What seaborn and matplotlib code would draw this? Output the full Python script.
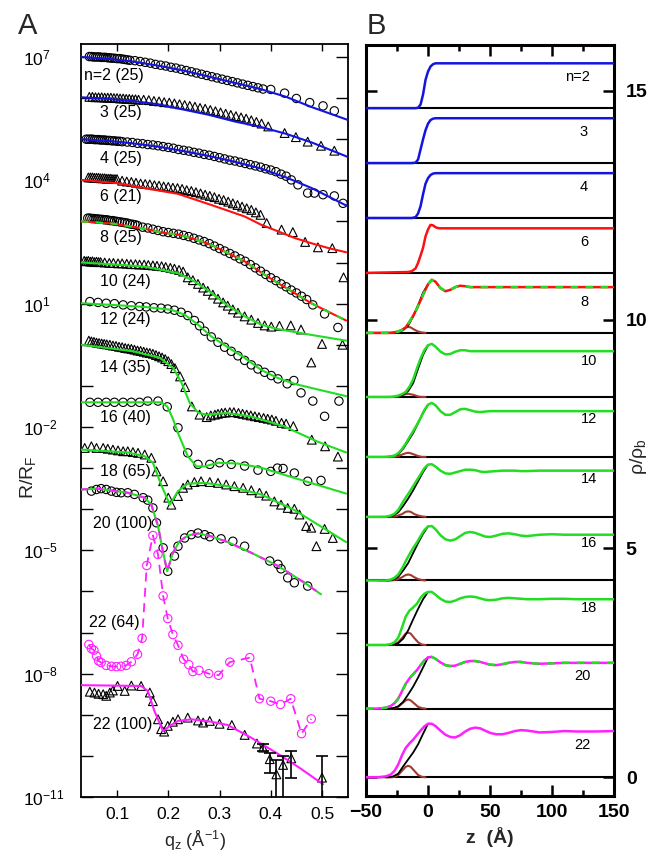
import numpy as np
import matplotlib
matplotlib.use("Agg")
import matplotlib.pyplot as plt
import seaborn as sns

# ---------------- panel A: log10(R/RF), already offset per sample ----------------
q_n2 = [0.046, 0.050, 0.054, 0.058, 0.062, 0.066, 0.070, 0.074, 0.078, 0.082, 0.086, 0.090, 0.095,
        0.100, 0.105, 0.110, 0.115, 0.120, 0.125, 0.135, 0.145, 0.155, 0.165, 0.175, 0.185, 0.195,
        0.205, 0.215, 0.225, 0.235, 0.245, 0.255, 0.265, 0.275, 0.285, 0.295, 0.305, 0.315, 0.325,
        0.335, 0.345, 0.355, 0.365, 0.375, 0.385, 0.400, 0.427, 0.450, 0.476, 0.502, 0.524]
lg_n2 = [7.01, 7.01, 7.00, 7.00, 7.00, 7.00, 6.99, 6.99, 6.99, 6.98, 6.98, 6.97, 6.97,
         6.96, 6.96, 6.95, 6.94, 6.93, 6.92, 6.91, 6.89, 6.87, 6.85, 6.82, 6.80, 6.78,
         6.75, 6.73, 6.70, 6.67, 6.64, 6.61, 6.58, 6.55, 6.52, 6.49, 6.46, 6.43, 6.40,
         6.37, 6.34, 6.31, 6.28, 6.25, 6.22, 6.21, 6.12, 5.99, 5.89, 5.81, 5.69]

q_n3 = [0.046, 0.052, 0.058, 0.064, 0.070, 0.076, 0.082, 0.088, 0.094, 0.100, 0.106, 0.112, 0.118,
        0.124, 0.130, 0.136, 0.142, 0.152, 0.162, 0.172, 0.182, 0.192, 0.202, 0.212, 0.222, 0.232,
        0.242, 0.252, 0.262, 0.272, 0.282, 0.292, 0.302, 0.312, 0.322, 0.332, 0.342, 0.352, 0.362,
        0.372, 0.382, 0.395, 0.427, 0.449, 0.472, 0.498, 0.524]
lg_n3 = [6.03, 6.03, 6.02, 6.02, 6.02, 6.01, 6.01, 6.01, 6.00, 6.00, 5.99, 5.99, 5.98,
         5.98, 5.97, 5.97, 5.96, 5.96, 5.95, 5.93, 5.92, 5.90, 5.89, 5.87, 5.85, 5.83,
         5.81, 5.79, 5.76, 5.74, 5.71, 5.68, 5.65, 5.62, 5.59, 5.56, 5.53, 5.50, 5.46,
         5.42, 5.38, 5.31, 5.15, 5.05, 4.94, 4.84, 4.72]

q_n4 = [0.040, 0.044, 0.048, 0.052, 0.056, 0.060, 0.064, 0.068, 0.072, 0.076, 0.080, 0.085, 0.090,
        0.095, 0.100, 0.105, 0.110, 0.12, 0.13, 0.14, 0.15, 0.16, 0.17, 0.18, 0.19, 0.20, 0.21,
        0.22, 0.23, 0.24, 0.25, 0.26, 0.27, 0.28, 0.29, 0.30, 0.31, 0.32, 0.33, 0.34, 0.35, 0.36,
        0.37, 0.38, 0.39, 0.40, 0.41, 0.42, 0.43, 0.44, 0.453, 0.472, 0.485, 0.502, 0.524, 0.541]
lg_n4 = [5.00, 5.00, 5.00, 5.00, 4.99, 4.99, 4.99, 4.98, 4.98, 4.98, 4.97, 4.97, 4.96,
         4.96, 4.95, 4.95, 4.94, 4.93, 4.92, 4.90, 4.89, 4.87, 4.86, 4.84, 4.82, 4.80, 4.78,
         4.75, 4.73, 4.71, 4.68, 4.66, 4.63, 4.61, 4.58, 4.55, 4.52, 4.49, 4.47, 4.44, 4.41, 4.38,
         4.35, 4.32, 4.28, 4.25, 4.21, 4.15, 4.10, 4.01, 3.89, 3.69, 3.69, 3.65, 3.62, 3.44]

q_n6 = [0.044, 0.048, 0.052, 0.056, 0.060, 0.064, 0.068, 0.072, 0.076, 0.080, 0.084, 0.088, 0.092,
        0.096, 0.100, 0.110, 0.119, 0.128, 0.137, 0.146, 0.155, 0.164, 0.173, 0.182, 0.191, 0.200,
        0.209, 0.218, 0.227, 0.236, 0.245, 0.254, 0.263, 0.272, 0.281, 0.290, 0.299, 0.308, 0.317,
        0.326, 0.335, 0.344, 0.353, 0.362, 0.371, 0.380, 0.392, 0.421, 0.443, 0.467, 0.492, 0.520]
lg_n6 = [4.07, 4.07, 4.07, 4.06, 4.06, 4.06, 4.05, 4.05, 4.05, 4.04, 4.04, 4.04, 4.03,
         4.03, 4.03, 3.99, 3.97, 3.96, 3.94, 3.92, 3.91, 3.90, 3.88, 3.87, 3.85, 3.84,
         3.82, 3.81, 3.79, 3.76, 3.74, 3.71, 3.68, 3.65, 3.62, 3.59, 3.55, 3.52, 3.48,
         3.44, 3.40, 3.36, 3.32, 3.28, 3.22, 3.16, 2.96, 2.80, 2.74, 2.50, 2.37, 2.35]

q_n8 = [0.043, 0.047, 0.051, 0.055, 0.059, 0.063, 0.067, 0.071, 0.075, 0.079, 0.083, 0.087, 0.091,
        0.095, 0.100, 0.105, 0.110, 0.115, 0.120, 0.125, 0.130, 0.135, 0.140, 0.15, 0.16, 0.17,
        0.18, 0.19, 0.20, 0.21, 0.22, 0.23, 0.24, 0.25, 0.26, 0.27, 0.28, 0.29, 0.30, 0.31, 0.32,
        0.33, 0.34, 0.35, 0.36, 0.37, 0.38, 0.39, 0.40, 0.41, 0.42, 0.43, 0.44, 0.45, 0.46, 0.47,
        0.482, 0.505, 0.531]
lg_n8 = [3.08, 3.08, 3.07, 3.07, 3.06, 3.06, 3.05, 3.05, 3.04, 3.04, 3.03, 3.02, 3.02,
         3.01, 3.00, 2.99, 2.98, 2.97, 2.96, 2.94, 2.93, 2.92, 2.90, 2.86, 2.84, 2.81,
         2.78, 2.75, 2.73, 2.71, 2.69, 2.66, 2.63, 2.59, 2.55, 2.51, 2.46, 2.40, 2.34, 2.28, 2.22,
         2.16, 2.09, 2.03, 1.95, 1.87, 1.79, 1.71, 1.63, 1.56, 1.48, 1.41, 1.33, 1.26, 1.18, 1.10,
         0.97, 0.75, 0.42]

q_n10 = [0.036, 0.040, 0.044, 0.048, 0.052, 0.056, 0.060, 0.064, 0.068, 0.076, 0.085, 0.093, 0.102,
         0.110, 0.119, 0.127, 0.136, 0.144, 0.153, 0.161, 0.170, 0.178, 0.187, 0.195, 0.204, 0.212,
         0.221, 0.229, 0.238, 0.248, 0.258, 0.268, 0.277, 0.287, 0.297, 0.307, 0.316, 0.326, 0.336,
         0.349, 0.362, 0.375, 0.388, 0.401, 0.417, 0.439, 0.459, 0.479, 0.500, 0.540, 0.542]
lg_n10 = [2.04, 2.03, 2.04, 2.02, 2.03, 2.01, 2.02, 2.01, 2.01, 2.00, 1.99, 1.99, 1.98,
          1.98, 1.97, 1.96, 1.96, 1.95, 1.95, 1.94, 1.93, 1.92, 1.91, 1.89, 1.87, 1.85,
          1.82, 1.78, 1.64, 1.57, 1.48, 1.39, 1.31, 1.22, 1.12, 1.03, 0.95, 0.86, 0.78,
          0.69, 0.61, 0.53, 0.47, 0.44, 0.46, 0.47, 0.37, -0.43, 0.02, 0.00, 1.64]

q_n12 = [0.047, 0.063, 0.079, 0.095, 0.112, 0.128, 0.144, 0.157, 0.172, 0.186, 0.199, 0.212, 0.225,
         0.238, 0.251, 0.261, 0.271, 0.284, 0.297, 0.310, 0.323, 0.336, 0.349, 0.362, 0.375, 0.388,
         0.401, 0.414, 0.432, 0.445, 0.459, 0.482, 0.505, 0.533]
lg_n12 = [1.05, 1.03, 1.01, 1.00, 0.97, 0.95, 0.93, 0.92, 0.90, 0.89, 0.87, 0.84, 0.79,
          0.71, 0.59, 0.46, 0.33, 0.19, 0.06, -0.06, -0.16, -0.27, -0.38, -0.49, -0.59, -0.67,
          -0.75, -0.83, -0.95, -0.87, -1.17, -1.37, -1.74, -1.37]

q_n14 = [0.045, 0.050, 0.055, 0.060, 0.065, 0.070, 0.075, 0.080, 0.086, 0.092, 0.098, 0.104, 0.110,
         0.116, 0.122, 0.128, 0.134, 0.140, 0.146, 0.152, 0.158, 0.164, 0.170, 0.176, 0.182, 0.188,
         0.194, 0.200, 0.206, 0.213, 0.223, 0.233, 0.246, 0.261, 0.275, 0.283, 0.291, 0.297, 0.304,
         0.311, 0.320, 0.328, 0.337, 0.345, 0.353, 0.361, 0.369, 0.377, 0.386, 0.394, 0.402, 0.410,
         0.421, 0.430, 0.444, 0.480, 0.506, 0.531]
lg_n14 = [0.10, 0.08, 0.07, 0.05, 0.04, 0.03, 0.02, 0.01, 0.00, -0.02, -0.03, -0.05, -0.06,
          -0.08, -0.09, -0.10, -0.12, -0.14, -0.15, -0.17, -0.19, -0.20, -0.22, -0.25, -0.28, -0.31,
          -0.35, -0.40, -0.47, -0.57, -0.77, -1.03, -1.50, -1.70, -1.76, -1.72, -1.70, -1.68, -1.66,
          -1.65, -1.64, -1.64, -1.66, -1.68, -1.70, -1.72, -1.74, -1.76, -1.78, -1.80, -1.82, -1.85,
          -1.90, -1.92, -1.98, -2.31, -2.47, -2.72]

q_n16 = [0.047, 0.063, 0.079, 0.095, 0.112, 0.128, 0.144, 0.160, 0.180, 0.198, 0.219, 0.238, 0.258,
         0.281, 0.300, 0.323, 0.349, 0.375, 0.400, 0.413, 0.424, 0.446, 0.472, 0.498]
lg_n16 = [-1.40, -1.40, -1.40, -1.40, -1.40, -1.40, -1.40, -1.37, -1.37, -1.51, -2.02, -2.63, -2.91,
          -2.91, -2.87, -2.91, -2.95, -3.05, -3.08, -3.00, -3.01, -3.12, -3.32, -3.30]

q_n18 = [0.037, 0.050, 0.060, 0.073, 0.082, 0.092, 0.102, 0.112, 0.121, 0.131, 0.141, 0.154, 0.167,
         0.177, 0.190, 0.200, 0.206, 0.219, 0.229, 0.238, 0.251, 0.264, 0.281, 0.297, 0.313, 0.329,
         0.346, 0.362, 0.378, 0.391, 0.407, 0.420, 0.433, 0.446, 0.456, 0.469, 0.479, 0.489, 0.505, 0.521]
lg_n18 = [-2.51, -2.47, -2.51, -2.51, -2.53, -2.55, -2.57, -2.59, -2.59, -2.61, -2.63, -2.67, -2.75,
          -3.08, -3.32, -3.72, -3.89, -3.68, -3.48, -3.40, -3.34, -3.32, -3.34, -3.36, -3.40, -3.44,
          -3.48, -3.54, -3.60, -3.67, -3.81, -3.89, -3.97, -3.99, -4.13, -4.41, -4.45, -4.90, -4.48, -4.70]

q_n20 = [0.050, 0.060, 0.069, 0.079, 0.089, 0.099, 0.108, 0.121, 0.134, 0.151, 0.160, 0.170, 0.177,
         0.190, 0.199, 0.212, 0.219, 0.232, 0.245, 0.258, 0.271, 0.281, 0.303, 0.326, 0.349, 0.398,
         0.414, 0.420, 0.433, 0.446, 0.472]
lg_n20 = [-3.56, -3.52, -3.50, -3.52, -3.56, -3.59, -3.60, -3.60, -3.64, -3.72, -3.78, -3.97, -4.33,
          -4.94, -5.51, -5.14, -4.90, -4.70, -4.62, -4.58, -4.62, -4.67, -4.72, -4.78, -4.90, -5.26,
          -5.34, -5.45, -5.67, -5.79, -5.87]

q_n22a = [0.045, 0.050, 0.055, 0.060, 0.064, 0.069, 0.079, 0.089, 0.099, 0.108, 0.118, 0.128, 0.140,
          0.149, 0.158, 0.170, 0.180, 0.190, 0.199, 0.209, 0.219, 0.230, 0.240, 0.248, 0.260, 0.279,
          0.298, 0.320, 0.359, 0.378, 0.400, 0.419, 0.439, 0.460, 0.479]
lg_n22a = [-7.29, -7.39, -7.43, -7.57, -7.69, -7.73, -7.80, -7.82, -7.83, -7.82, -7.80, -7.71, -7.53,
           -7.14, -5.37, -4.64, -5.10, -6.11, -6.66, -7.05, -7.31, -7.65, -7.78, -7.95, -7.92, -8.00,
           -8.04, -7.72, -7.61, -8.61, -8.67, -8.75, -8.61, -9.46, -9.10]

q_n22b = [0.047, 0.056, 0.064, 0.073, 0.079, 0.086, 0.092, 0.101, 0.115, 0.128, 0.147, 0.164, 0.170,
          0.180, 0.186, 0.192, 0.199, 0.209, 0.219, 0.238, 0.258, 0.268, 0.281, 0.300, 0.324, 0.349,
          0.373, 0.385, 0.398, 0.411, 0.424, 0.440, 0.500]
lg_n22b = [-8.44, -8.46, -8.49, -8.50, -8.54, -8.46, -8.41, -8.30, -8.42, -8.29, -8.30, -8.46, -8.67,
           -9.11, -9.35, -9.41, -9.27, -9.17, -9.11, -9.07, -9.14, -9.19, -9.15, -9.22, -9.25, -9.49,
           -9.70, -9.80, -10.08, -10.45, -10.22, -10.06, -10.53]
err_q = [0.385, 0.398, 0.411, 0.424, 0.440, 0.500]
err_mid = [-9.80, -10.08, -10.45, -10.22, -10.06, -10.53]
err_lo = [-9.88, -10.41, -11.5, -11.5, -10.53, -11.5]
err_hi = [-9.72, -9.94, -10.10, -10.00, -9.88, -10.00]

# fitted curves
fq_std = [0.03, 0.08, 0.13, 0.18, 0.23, 0.28, 0.33, 0.38, 0.43, 0.48, 0.55]
flg_n2 = [7.00, 6.96, 6.89, 6.79, 6.67, 6.52, 6.37, 6.22, 6.03, 5.78, 5.47]
flg_n3 = [6.02, 5.98, 5.93, 5.85, 5.72, 5.59, 5.43, 5.30, 5.13, 4.92, 4.57]
flg_n4 = [5.00, 4.96, 4.90, 4.82, 4.71, 4.59, 4.45, 4.29, 4.07, 3.81, 3.37]
fq_n6 = [0.03, 0.10, 0.154, 0.219, 0.284, 0.349, 0.381, 0.414, 0.446, 0.479, 0.513, 0.547]
flg_n6 = [4.01, 3.93, 3.81, 3.67, 3.40, 3.12, 2.92, 2.76, 2.60, 2.47, 2.35, 2.25]
fq_n8 = [0.03, 0.09, 0.154, 0.186, 0.219, 0.251, 0.284, 0.316, 0.349, 0.381, 0.414, 0.446, 0.479, 0.511, 0.547]
flg_n8 = [3.00, 2.95, 2.82, 2.73, 2.68, 2.57, 2.43, 2.23, 2.03, 1.76, 1.50, 1.26, 1.01, 0.81, 0.59]
fq_n10 = [0.03, 0.089, 0.154, 0.219, 0.251, 0.284, 0.316, 0.349, 0.381, 0.414, 0.479, 0.547]
flg_n10 = [2.00, 1.96, 1.90, 1.74, 1.54, 1.26, 0.95, 0.69, 0.49, 0.38, 0.24, 0.10]
fq_n12 = [0.03, 0.089, 0.154, 0.206, 0.232, 0.258, 0.284, 0.316, 0.349, 0.381, 0.414, 0.446, 0.479, 0.547]
flg_n12 = [1.01, 0.97, 0.92, 0.85, 0.73, 0.49, 0.20, -0.06, -0.32, -0.61, -0.81, -0.95, -1.05, -1.25]
fq_n14 = [0.031, 0.132, 0.184, 0.210, 0.226, 0.242, 0.259, 0.275, 0.314, 0.360, 0.425, 0.490, 0.547]
flg_n14 = [0.00, -0.16, -0.32, -0.57, -0.93, -1.42, -1.66, -1.70, -1.66, -1.74, -1.98, -2.35, -2.62]
fq_n16 = [0.03, 0.186, 0.198, 0.209, 0.219, 0.238, 0.255, 0.271, 0.297, 0.336, 0.381, 0.446, 0.547]
flg_n16 = [-1.40, -1.40, -1.50, -1.80, -2.15, -2.71, -2.96, -2.96, -2.87, -2.89, -2.99, -3.24, -3.62]
fq_n18 = [0.03, 0.121, 0.154, 0.170, 0.186, 0.203, 0.219, 0.238, 0.271, 0.316, 0.381, 0.446, 0.547]
flg_n18 = [-2.55, -2.62, -2.71, -2.87, -3.40, -3.89, -3.56, -3.38, -3.36, -3.44, -3.64, -4.02, -4.80]
fq_n20 = [0.03, 0.063, 0.121, 0.154, 0.167, 0.180, 0.190, 0.198, 0.209, 0.222, 0.238, 0.258, 0.284,
          0.316, 0.362, 0.414, 0.466, 0.498]
flg_n20 = [-3.52, -3.50, -3.60, -3.72, -3.89, -4.41, -5.06, -5.51, -5.06, -4.78, -4.64, -4.59, -4.66,
           -4.80, -5.06, -5.38, -5.79, -6.07]
fq_n22 = [0.03, 0.147, 0.160, 0.173, 0.190, 0.203, 0.219, 0.245, 0.284, 0.316, 0.362, 0.414, 0.456, 0.502]
flg_n22 = [-8.28, -8.30, -8.42, -8.91, -9.40, -9.27, -9.15, -9.11, -9.17, -9.25, -9.56, -9.95, -10.29, -10.69]

labels_a = ["n=2 (25)", "3 (25)", "4 (25)", "6 (21)", "8 (25)", "10 (24)", "12 (24)",
            "14 (35)", "16 (40)", "18 (65)", "20 (100)", "22 (64)", "22 (100)"]
lab_q = [0.0356, 0.0668, 0.0668, 0.0668, 0.0668, 0.0668, 0.0668, 0.0668, 0.0668, 0.0668,
         0.0532, 0.0454, 0.0532]
lab_lg = [6.56, 5.64, 4.52, 3.60, 2.60, 1.53, 0.61, -0.56, -1.77, -3.09, -4.35, -6.75, -9.23]

# ---------------- panel B: density profiles rho/rho_b ----------------
z_step = [-50, -16, -13, -10, -8, -6, -4, -2, 0, 2, 4, 6, 8, 10, 14, 150]
rho_n2 = [0, 0, 0, 0, 0.01, 0.08, 0.30, 0.62, 0.80, 0.91, 0.96, 0.98, 0.98, 0.98, 0.98, 0.98]
rho_n3 = [0, 0, 0, 0.01, 0.08, 0.30, 0.52, 0.72, 0.86, 0.94, 0.97, 0.98, 0.98, 0.98, 0.98, 0.98]
rho_n4 = [0, 0, 0, 0.02, 0.10, 0.26, 0.52, 0.75, 0.87, 0.94, 0.97, 0.98, 0.98, 0.98, 0.98, 0.98]
rho_n6 = [0, 0.02, 0.04, 0.10, 0.22, 0.38, 0.55, 0.80, 0.95, 1.05, 1.04, 1.00, 0.98, 0.975, 0.975, 0.975]

z_layer = [-50, -40, -34, -30, -27, -24, -21, -18, -15, -12, -9, -6, -3, 0, 3, 6, 10, 14, 18, 22,
           26, 30, 34, 38, 42, 46, 50, 55, 60, 65, 70, 75, 80, 90, 100, 110, 120, 135, 150]
rho_n8 = [0, 0, 0, 0, 0.01, 0.03, 0.06, 0.12, 0.24, 0.37, 0.53, 0.71, 0.89, 1.06, 1.16, 1.12, 0.98,
          0.91, 0.94, 1.00, 1.03, 1.02, 1.00, 1.00, 1.00, 1.00, 1.00, 1.00, 1.00, 1.00, 1.00, 1.00,
          1.00, 1.00, 1.00, 1.00, 1.00, 1.00, 1.00]
rho_n10 = [0, 0, 0, 0, 0.01, 0.03, 0.06, 0.11, 0.22, 0.38, 0.62, 0.84, 1.02, 1.13, 1.16, 1.10, 0.99,
           0.93, 0.94, 0.99, 1.02, 1.02, 1.00, 1.00, 1.00, 1.00, 1.00, 1.00, 1.00, 1.00, 1.00, 1.00,
           1.00, 1.00, 1.00, 1.00, 1.00, 1.00, 1.00]
rho_n12 = [0, 0, 0, 0.01, 0.03, 0.08, 0.17, 0.29, 0.43, 0.56, 0.70, 0.85, 1.02, 1.14, 1.18, 1.13, 1.00,
           0.92, 0.92, 0.98, 1.04, 1.05, 1.02, 0.99, 0.98, 0.99, 1.00, 1.00, 1.00, 1.00, 1.00, 1.00,
           1.00, 1.00, 1.00, 1.00, 1.00, 1.00, 1.00]
rho_n14 = [0, 0, 0, 0.03, 0.07, 0.15, 0.29, 0.42, 0.54, 0.67, 0.80, 0.93, 1.06, 1.14, 1.15, 1.10, 1.01,
           0.95, 0.94, 0.97, 1.00, 1.03, 1.03, 1.02, 0.99, 0.98, 0.99, 1.00, 1.01, 1.01, 1.01, 1.00,
           1.00, 1.01, 1.01, 1.01, 1.01, 1.01, 1.01]
rho_n16 = [0, 0, 0, 0.02, 0.06, 0.13, 0.26, 0.42, 0.57, 0.71, 0.83, 0.97, 1.10, 1.18, 1.19, 1.12, 0.99,
           0.90, 0.87, 0.90, 0.97, 1.04, 1.06, 1.04, 1.00, 0.96, 0.95, 0.98, 1.02, 1.03, 1.01, 0.98,
           0.97, 1.00, 1.01, 1.00, 1.00, 1.00, 1.00]
rho_n18 = [0, 0, 0, 0.02, 0.06, 0.16, 0.38, 0.62, 0.75, 0.82, 0.90, 1.03, 1.12, 1.16, 1.16, 1.10, 1.01,
           0.95, 0.94, 0.97, 1.02, 1.05, 1.06, 1.05, 1.02, 0.99, 0.98, 0.99, 1.02, 1.03, 1.02, 1.01,
           1.00, 1.00, 1.01, 1.01, 1.00, 1.00, 1.00]
rho_n20 = [0, 0, 0.02, 0.06, 0.12, 0.22, 0.38, 0.54, 0.66, 0.75, 0.84, 0.95, 1.05, 1.12, 1.13, 1.09, 1.01,
           0.95, 0.93, 0.94, 0.98, 1.02, 1.04, 1.04, 1.02, 0.99, 0.96, 0.95, 0.97, 1.00, 1.02, 1.02,
           1.00, 0.98, 0.99, 1.00, 1.00, 1.00, 1.00]
rho_n22 = [0, 0, 0.02, 0.06, 0.14, 0.28, 0.48, 0.64, 0.74, 0.82, 0.92, 1.02, 1.11, 1.17, 1.17, 1.12, 1.02,
           0.93, 0.88, 0.87, 0.92, 1.00, 1.06, 1.085, 1.07, 1.02, 0.97, 0.94, 0.94, 0.97, 1.01, 1.03,
           1.02, 0.98, 0.99, 1.01, 1.00, 1.00, 1.01]

# black reference profile (only where it separates from the coloured one)
z_black = [-40, -32, -28, -24, -20, -16, -12, -8, -4, 0]
blk_n8 = [0, 0, 0, 0.02, 0.06, 0.16, 0.36, 0.60, 0.88, 1.06]
blk_n10 = [0, 0, 0, 0.02, 0.05, 0.13, 0.30, 0.62, 0.92, 1.13]
blk_n12 = [0, 0, 0.02, 0.06, 0.18, 0.35, 0.52, 0.74, 0.96, 1.14]
blk_n14 = [0, 0, 0.03, 0.10, 0.24, 0.40, 0.58, 0.78, 0.98, 1.14]
blk_n16 = [0, 0, 0.02, 0.08, 0.22, 0.38, 0.60, 0.82, 1.02, 1.18]
blk_n18 = [0, 0, 0.01, 0.04, 0.14, 0.32, 0.56, 0.79, 1.00, 1.16]
blk_n20 = [0, 0, 0.01, 0.05, 0.15, 0.31, 0.48, 0.68, 0.90, 1.12]
blk_n22 = [0, 0, 0.02, 0.08, 0.24, 0.39, 0.54, 0.72, 0.95, 1.17]

# brown headgroup bump
z_brown = [-34, -30, -27, -24, -21, -18, -16, -14, -11, -8, -5, -2]
brn_n8 = [0, 0, 0.01, 0.03, 0.07, 0.12, 0.13, 0.12, 0.07, 0.03, 0.01, 0]
brn_n10 = [0, 0, 0, 0.01, 0.04, 0.06, 0.07, 0.06, 0.04, 0.01, 0, 0]
brn_n12 = [0, 0, 0, 0.02, 0.05, 0.08, 0.09, 0.08, 0.05, 0.02, 0, 0]
brn_n14 = [0, 0, 0.01, 0.03, 0.06, 0.11, 0.12, 0.11, 0.06, 0.03, 0.01, 0]
brn_n16 = [0, 0, 0.01, 0.03, 0.07, 0.12, 0.13, 0.12, 0.07, 0.03, 0.01, 0]
brn_n18 = [0, 0, 0.01, 0.06, 0.15, 0.25, 0.27, 0.25, 0.15, 0.06, 0.01, 0]
brn_n20 = [0, 0, 0.01, 0.04, 0.11, 0.18, 0.20, 0.18, 0.11, 0.04, 0.01, 0]
brn_n22 = [0, 0, 0.01, 0.05, 0.14, 0.23, 0.25, 0.23, 0.14, 0.05, 0.01, 0]

base_b = [14.62, 13.42, 12.22, 11.02, 9.71, 8.31, 7.00, 5.69, 4.30, 2.89, 1.50, 0.00]
labels_b = ["n=2", "3", "4", "6", "8", "10", "12", "14", "16", "18", "20", "22"]
lab_bx = [120.2, 125.8, 125.8, 125.8, 125.8, 129.8, 129.8, 129.8, 129.8, 129.8, 124.2, 124.2]
lab_by = [15.31, 14.10, 12.90, 11.70, 10.39, 9.10, 7.82, 6.51, 5.11, 3.69, 2.21, 0.70]

BLUE = "#1414e0"
RED = "#ff1010"
GREEN = "#22dd22"
MAGENTA = "#ff20ff"
BROWN = "#a33a30"

sns.set_theme(style="ticks")
plt.rcParams["font.family"] = ["Liberation Sans", "DejaVu Sans"]
plt.rcParams["mathtext.fontset"] = "custom"
plt.rcParams["mathtext.rm"] = "Liberation Sans"
plt.rcParams["mathtext.it"] = "Liberation Sans:italic"
plt.rcParams["mathtext.bf"] = "Liberation Sans:bold"
plt.rcParams["axes.edgecolor"] = "black"
plt.rcParams["xtick.color"] = "black"
plt.rcParams["ytick.color"] = "black"


def p10(v):
    return np.power(10.0, np.asarray(v, dtype=float))


def line(ax, x, y, color, ls="-", lw=1.5, z=3):
    sns.lineplot(x=x, y=y, sort=False, estimator=None, color=color, linewidth=lw,
                 linestyle=ls, ax=ax, zorder=z)


def marks(ax, x, y, marker, color="black", size=36):
    sns.scatterplot(x=x, y=y, marker=marker, s=size, facecolors="none", edgecolor=color,
                    linewidth=0.8, ax=ax, zorder=2)


fig = plt.figure(figsize=(6.62, 8.59), dpi=100)
axA = fig.add_axes([0.1224, 0.0722, 0.4026, 0.8766])
axB = fig.add_axes([0.5529, 0.0733, 0.3746, 0.8743])

# ---- panel A ----
axA.set_yscale("log")
DASH = (0, (3.5, 3.5))
sets_a = [
    (q_n2, lg_n2, "o", fq_std, flg_n2, BLUE, None),
    (q_n3, lg_n3, "^", fq_std, flg_n3, BLUE, None),
    (q_n4, lg_n4, "o", fq_std, flg_n4, BLUE, None),
    (q_n6, lg_n6, "^", fq_n6, flg_n6, RED, None),
    (q_n8, lg_n8, "o", fq_n8, flg_n8, RED, GREEN),
    (q_n10, lg_n10, "^", fq_n10, flg_n10, GREEN, None),
    (q_n12, lg_n12, "o", fq_n12, flg_n12, GREEN, None),
    (q_n14, lg_n14, "^", fq_n14, flg_n14, GREEN, None),
    (q_n16, lg_n16, "o", fq_n16, flg_n16, GREEN, None),
    (q_n18, lg_n18, "^", fq_n18, flg_n18, GREEN, None),
    (q_n20, lg_n20, "o", fq_n20, flg_n20, GREEN, MAGENTA),
    (q_n22b, lg_n22b, "^", fq_n22, flg_n22, MAGENTA, None),
]
for q, lg, mk, fq, flg, c1, c2 in sets_a:
    marks(axA, q, p10(lg), mk, size=36 if mk == "o" else 40)
    line(axA, fq, p10(flg), c1)
    if c2 is not None:
        line(axA, fq, p10(flg), c2, ls=DASH)

marks(axA, q_n22a, p10(lg_n22a), "o", color=MAGENTA)
line(axA, q_n22a, p10(lg_n22a), MAGENTA, ls=(0, (5, 3.5)), lw=1.3)

mid = p10(err_mid)
axA.errorbar(err_q, mid, yerr=[mid - p10(err_lo), p10(err_hi) - mid], fmt="none",
             ecolor="black", elinewidth=1.2, capsize=4, capthick=1.2, zorder=4)

for txt, x, y in zip(labels_a, lab_q, lab_lg):
    axA.text(x, 10.0 ** y, txt, fontsize=11.5, ha="left", va="center", color="black")

axA.set_xlim(0.0298, 0.5498)
axA.set_ylim(10 ** -10.98, 10 ** 7.316)
decades = list(range(-11, 8))
axA.set_yticks([10.0 ** k for k in decades],
               [f"$10^{{{k}}}$" if k % 3 == 1 else "" for k in decades])
axA.minorticks_off()
axA.set_xticks([0.1, 0.2, 0.3, 0.4, 0.5], ["0.1", "0.2", "0.3", "0.4", "0.5"])
axA.tick_params(axis="both", which="both", direction="in", top=True, right=True, width=1.0)
axA.tick_params(axis="y", length=8.5, pad=41.5, labelsize=12.5)
axA.tick_params(axis="x", length=5, pad=7, labelsize=12.5)
for t in axA.get_yticklabels():
    t.set_horizontalalignment("left")
for s in axA.spines.values():
    s.set_linewidth(1.3)
axA.set_xlabel("q$_\\mathrm{z}$ (Å$^{-1}$)", fontsize=13)
axA.xaxis.set_label_coords(0.427, -0.043)
axA.set_ylabel("R/R$_\\mathrm{F}$", fontsize=14)
axA.yaxis.set_label_coords(-0.161, 0.425)

# ---- panel B ----
step_sets = [(rho_n2, BLUE), (rho_n3, BLUE), (rho_n4, BLUE), (rho_n6, RED)]
layer_sets = [
    (rho_n8, blk_n8, brn_n8, RED, GREEN),
    (rho_n10, blk_n10, brn_n10, GREEN, None),
    (rho_n12, blk_n12, brn_n12, GREEN, None),
    (rho_n14, blk_n14, brn_n14, GREEN, None),
    (rho_n16, blk_n16, brn_n16, GREEN, None),
    (rho_n18, blk_n18, brn_n18, GREEN, None),
    (rho_n20, blk_n20, brn_n20, MAGENTA, GREEN),
    (rho_n22, blk_n22, brn_n22, MAGENTA, None),
]
for b in base_b:
    axB.hlines(b, -50, 150, color="black", lw=1.5, zorder=1)

for (rho, col), b in zip(step_sets, base_b[:4]):
    line(axB, z_step, np.add(rho, b), col, lw=1.8)

for (rho, blk, brn, c1, c2), b in zip(layer_sets, base_b[4:]):
    line(axB, z_brown, np.add(brn, b), BROWN, lw=1.5, z=2)
    line(axB, z_black, np.add(blk, b), "black", lw=1.3, z=2)
    line(axB, z_layer, np.add(rho, b), c1, lw=1.8)
    if c2 is not None:
        line(axB, z_layer, np.add(rho, b), c2, ls=(0, (3, 3)), lw=1.8, z=4)

for txt, x, y in zip(labels_b, lab_bx, lab_by):
    axB.text(x, y, txt, fontsize=10.5, ha="center", va="center", color="black")

axB.set_xlim(-50, 150)
axB.set_ylim(-0.41, 16.0)
axB.set_xticks([-50, 0, 50, 100, 150], ["\u221250", "0", "50", "100", "150"], fontweight="bold")
axB.set_xticks([-25, 25, 75, 125], minor=True)
axB.set_yticks([0, 5, 10, 15], ["0", "5", "10", "15"], fontweight="bold")
axB.tick_params(axis="both", which="both", direction="in", top=True, bottom=True, left=True,
                right=True, labelleft=False, labelright=True, width=1.8)
axB.tick_params(axis="x", which="major", length=8, labelsize=14, pad=6)
axB.tick_params(axis="x", which="minor", length=4.5)
axB.tick_params(axis="y", length=8, labelsize=14, pad=8.5)
for s in axB.spines.values():
    s.set_linewidth(2.2)
axB.set_xlabel("z  (Å)", fontsize=14, fontweight="bold")
axB.xaxis.set_label_coords(0.5, -0.041)
axB.yaxis.set_label_position("right")
axB.set_ylabel("ρ/ρ$_\\mathrm{b}$", fontsize=14, rotation=90)
axB.yaxis.set_label_coords(1.056, 0.452)

fig.text(0.042, 0.970, "A", fontsize=21, ha="center", va="center")
fig.text(0.568, 0.970, "B", fontsize=21, ha="center", va="center")

fig.savefig("out.png", dpi=100)
